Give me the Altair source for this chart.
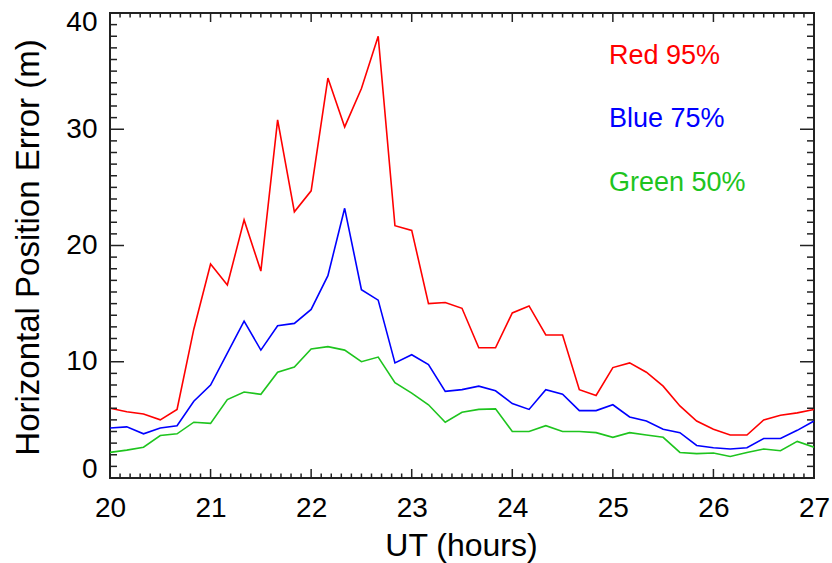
import altair as alt
import pandas as pd

# Horizontal position error percentiles, sampled every 10 minutes (UT hours)
ut_hours = [round(20 + i / 6, 4) for i in range(43)]

red_95 = [6.0, 5.7, 5.5, 5.0, 5.9, 12.8, 18.4, 16.6, 22.2, 17.8, 30.8, 22.9,
          24.7, 34.4, 30.2, 33.5, 38.0, 21.7, 21.3, 15.0, 15.1, 14.6, 11.2, 11.2,
          14.2, 14.8, 12.3, 12.3, 7.6, 7.1, 9.5, 9.9, 9.1, 7.9, 6.2, 4.9,
          4.2, 3.7, 3.7, 5.0, 5.4, 5.6, 5.9]
blue_75 = [4.3, 4.4, 3.8, 4.3, 4.5, 6.6, 8.0, 10.75, 13.5, 11.0, 13.1, 13.3,
           14.5, 17.4, 23.2, 16.2, 15.3, 9.9, 10.6, 9.75, 7.45, 7.6, 7.9, 7.5,
           6.4, 5.9, 7.6, 7.2, 5.8, 5.8, 6.3, 5.25, 4.9, 4.2, 3.9, 2.8,
           2.6, 2.5, 2.6, 3.4, 3.4, 4.1, 4.9]
green_50 = [2.2, 2.4, 2.65, 3.65, 3.8, 4.8, 4.7, 6.75, 7.4, 7.2, 9.1, 9.55,
            11.1, 11.3, 11.0, 10.0, 10.4, 8.2, 7.3, 6.3, 4.8, 5.65, 5.9, 5.95,
            4.0, 4.0, 4.5, 4.0, 4.0, 3.9, 3.5, 3.9, 3.7, 3.5, 2.2, 2.1,
            2.15, 1.85, 2.2, 2.5, 2.35, 3.15, 2.65]

series_names = ["Red 95%", "Blue 75%", "Green 50%"]
series_colors = ["#ff0000", "#0000ff", "#1ec41e"]

# Axis tick positions
x_major = [20, 21, 22, 23, 24, 25, 26, 27]
x_minor = [round(20 + i / 10, 2) for i in range(71) if i % 10]
y_major = [0, 10, 20, 30, 40]
y_minor = [v for v in range(41) if v % 10]

W, H = 704, 465
FONT = "Liberation Sans"
INK = "#222222"

rows = []
for name, vals in zip(series_names, [red_95, blue_75, green_50]):
    for t, v in zip(ut_hours, vals):
        rows.append({"ut": t, "err": v, "series": name})
df = pd.DataFrame(rows)

x_scale = alt.Scale(domain=[20, 27], nice=False, zero=False)
y_scale = alt.Scale(domain=[0, 40], nice=False, zero=False)

x_axis = alt.Axis(
    values=x_major, format="d", tickSize=0, domain=False, grid=False,
    labelFont=FONT, labelFontSize=28, labelColor="black", labelPadding=16,
    labelFlush=False, labelOverlap=False,
    title="UT (hours)", titleFont=FONT, titleFontSize=32,
    titleFontWeight="normal", titleColor="black",
    titleX=351, titleY=77, titleBaseline="alphabetic", titleAnchor="middle")
y_axis = alt.Axis(
    values=y_major, tickSize=0, domain=False, grid=False,
    labelFont=FONT, labelFontSize=28, labelColor="black", labelPadding=13,
    labelFlush=True, labelFlushOffset=5,
    title="Horizontal Position Error (m)", titleFont=FONT, titleFontSize=33,
    titleFontWeight="normal", titleColor="black", titleAngle=270,
    titleX=-82, titleY=234, titleBaseline="middle", titleAlign="center")

lines = alt.Chart(df).mark_line(strokeWidth=1.6, clip=True).encode(
    x=alt.X("ut:Q", scale=x_scale, axis=x_axis),
    y=alt.Y("err:Q", scale=y_scale, axis=y_axis),
    color=alt.Color("series:N", scale=alt.Scale(domain=series_names, range=series_colors),
                    legend=None),
)


def y_ticks(values, length):
    d = pd.DataFrame({"err": values})
    left = alt.Chart(d).mark_rule(color=INK, strokeWidth=1.5).encode(
        y=alt.Y("err:Q", scale=y_scale, axis=y_axis), x=alt.value(0), x2=alt.value(length))
    right = alt.Chart(d).mark_rule(color=INK, strokeWidth=1.5).encode(
        y=alt.Y("err:Q", scale=y_scale, axis=y_axis), x=alt.value(W), x2=alt.value(W - length))
    return [left, right]


def x_ticks(values, length):
    d = pd.DataFrame({"ut": values})
    bottom = alt.Chart(d).mark_rule(color=INK, strokeWidth=1.5).encode(
        x=alt.X("ut:Q", scale=x_scale, axis=x_axis), y=alt.value(H), y2=alt.value(H - length))
    top = alt.Chart(d).mark_rule(color=INK, strokeWidth=1.5).encode(
        x=alt.X("ut:Q", scale=x_scale, axis=x_axis), y=alt.value(0), y2=alt.value(length))
    return [bottom, top]


tick_layers = (y_ticks(y_major, 14) + y_ticks(y_minor, 7)
               + x_ticks(x_major, 9) + x_ticks(x_minor, 4.5))

key_rows = [(series_names[0], series_colors[0], 51),
            (series_names[1], series_colors[1], 114),
            (series_names[2], series_colors[2], 178)]
key_layers = [
    alt.Chart(pd.DataFrame({"label": [name]})).mark_text(
        align="left", baseline="alphabetic", font=FONT, fontSize=27, color=col
    ).encode(x=alt.value(499), y=alt.value(ypos), text="label:N")
    for name, col, ypos in key_rows
]

chart = alt.layer(lines, *tick_layers, *key_layers).properties(
    width=W, height=H,
    autosize=alt.AutoSizeParams(type="none"),
    padding={"left": 110, "top": 13, "right": 18, "bottom": 85},
    background="white",
).configure_view(stroke=INK, strokeWidth=2)

chart.save("out.html", embed_options={"renderer": "svg", "actions": False})
